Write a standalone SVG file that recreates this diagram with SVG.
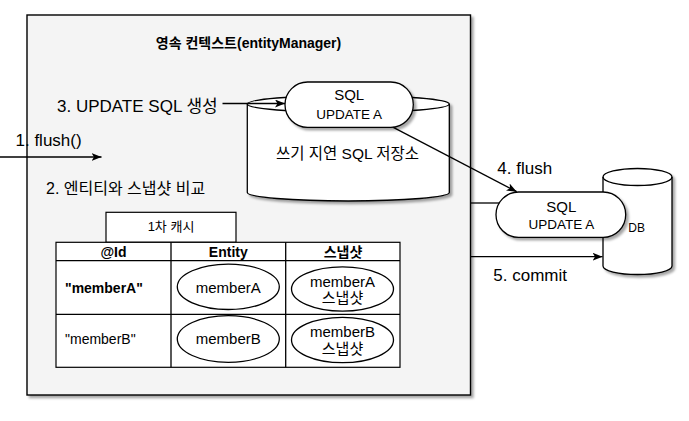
<svg xmlns="http://www.w3.org/2000/svg" width="689" height="421" viewBox="0 0 689 421">
<defs>
<filter id="sh" x="-10%" y="-10%" width="130%" height="130%">
<feDropShadow dx="2.5" dy="2.5" stdDeviation="1.2" flood-color="#000" flood-opacity="0.35"/>
</filter>
<marker id="arr" viewBox="0 0 10 8" refX="10" refY="4" markerWidth="10" markerHeight="8" markerUnits="userSpaceOnUse" orient="auto">
<path d="M0,0 L10,4 L0,8 L2.5,4 Z" fill="#000"/>
</marker>
<style>
text{font-family:"Liberation Sans","Noto Sans CJK KR",sans-serif;fill:#000}
.shape{fill:#fff;stroke:#000;stroke-width:1.3}
.cell{fill:#fff;stroke:#000;stroke-width:1.2}
.ln{fill:none;stroke:#000;stroke-width:1.3}
.lbl{font-size:17px}
.mid{text-anchor:middle}
.b{font-weight:bold}
</style>
</defs>
<rect width="689" height="421" fill="#fff"/>

<g id="persistence-context">
<rect x="27" y="15" width="443.5" height="380" fill="#f4f4f4" stroke="#000" stroke-width="1.4" filter="url(#sh)"/>
<text x="248.5" y="48" class="mid b" font-size="14">영속 컨텍스트(entityManager)</text>
</g>

<g id="cache-tab">
<rect x="106" y="212.3" width="130" height="30" class="cell"/>
<text x="171" y="231" class="mid" font-size="13">1차 캐시</text>
</g>

<g id="cache-table">
<rect x="56" y="242.3" width="344" height="125" class="cell"/>
<path d="M56,260.7 H400 M56,314.3 H400 M171,242.3 V367.3 M285.7,242.3 V367.3" class="ln" stroke-width="1.2"/>
<text x="113.5" y="256.5" class="mid b" font-size="14">@Id</text>
<text x="228.3" y="256.5" class="mid b" font-size="14">Entity</text>
<text x="343" y="256.5" class="mid b" font-size="14">스냅샷</text>
<text x="65" y="293" class="b" font-size="14">"memberA"</text>
<text x="65" y="343.5" font-size="14">"memberB"</text>
</g>

<g id="entity-a">
<ellipse cx="228.3" cy="286.8" rx="51" ry="22.7" class="shape"/>
<text x="228.3" y="293.3" class="mid" font-size="15">memberA</text>
</g>
<g id="entity-b">
<ellipse cx="228.3" cy="339" rx="51" ry="23.3" class="shape"/>
<text x="228.3" y="343.5" class="mid" font-size="15">memberB</text>
</g>
<g id="snapshot-a">
<ellipse cx="342.5" cy="289" rx="51" ry="22.2" class="shape"/>
<text x="342.5" y="286.5" class="mid" font-size="15">memberA</text>
<text x="342.5" y="303" class="mid" font-size="15">스냅샷</text>
</g>
<g id="snapshot-b">
<ellipse cx="342.5" cy="340" rx="51" ry="22.7" class="shape"/>
<text x="342.5" y="337" class="mid" font-size="15">memberB</text>
<text x="342.5" y="353.5" class="mid" font-size="15">스냅샷</text>
</g>

<g id="write-behind-store">
<path d="M247.3,104 A101,8.5 0 0 1 449.3,104 V192.5 A101,8.5 0 0 1 247.3,192.5 Z" class="shape" filter="url(#sh)"/>
<path d="M247.3,104 A101,8.5 0 0 0 449.3,104" class="ln"/>
<text x="347.5" y="159" class="mid" font-size="15.5">쓰기 지연 SQL 저장소</text>
</g>

<g id="sql-pending">
<rect x="285" y="82" width="128.3" height="45.3" rx="22.6" class="shape" filter="url(#sh)"/>
<text x="349.2" y="100.3" class="mid" font-size="15">SQL</text>
<text x="349.2" y="119.3" class="mid" font-size="13.5">UPDATE A</text>
</g>

<g id="db">
<path d="M603,177 A34.5,8.5 0 0 1 672,177 V266 A34.5,8.5 0 0 1 603,266 Z" class="shape" filter="url(#sh)"/>
<path d="M603,177 A34.5,8.5 0 0 0 672,177" class="ln"/>
<text x="628.3" y="232" font-size="12">DB</text>
</g>

<g id="sql-flushed">
<rect x="496" y="192" width="129.7" height="45.3" rx="22.6" class="shape" filter="url(#sh)"/>
<text x="561.3" y="211.5" class="mid" font-size="15">SQL</text>
<text x="561.3" y="229.3" class="mid" font-size="13.5">UPDATE A</text>
</g>

<g id="connectors">
<line x1="0" y1="157" x2="101.5" y2="157" class="ln" marker-end="url(#arr)"/>
<line x1="222.5" y1="103.5" x2="285" y2="103.5" class="ln" marker-end="url(#arr)"/>
<line x1="393.3" y1="127.3" x2="516.7" y2="191.7" class="ln" marker-end="url(#arr)"/>
<line x1="470.5" y1="203" x2="499.2" y2="203" class="ln"/>
<line x1="470.5" y1="256.7" x2="602.5" y2="256.7" class="ln" marker-end="url(#arr)"/>
<text x="15.5" y="145.5" class="lbl">1. flush()</text>
<text x="46" y="194" font-size="16">2. 엔티티와 스냅샷 비교</text>
<text x="57" y="111.5" class="lbl">3. UPDATE SQL 생성</text>
<text x="497.3" y="174" class="lbl">4. flush</text>
<text x="493.3" y="281" class="lbl">5. commit</text>
</g>
</svg>
